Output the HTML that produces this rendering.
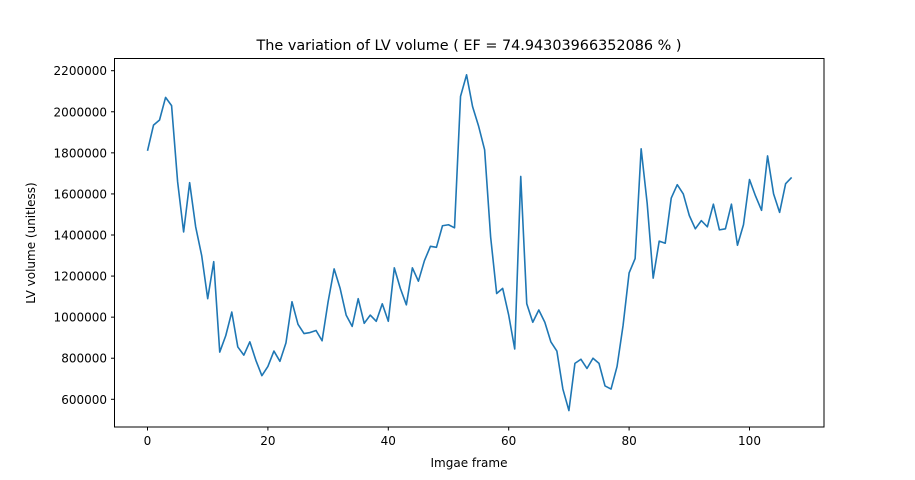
<!DOCTYPE html>
<html><head><meta charset="utf-8">
<style>
body{margin:0;background:#fff;}
svg{display:block;font-family:"DejaVu Sans","Liberation Sans",sans-serif;}
</style></head>
<body>
<svg id="chart" width="915" height="480">
<rect width="915" height="480" fill="#fff"/>
<text x="469" y="50" font-size="14.4" text-anchor="middle">The variation of LV volume ( EF = 74.94303966352086 % )</text>
<g id="axes"></g>
<polyline id="line" fill="none" stroke="#1f77b4" stroke-width="1.6" stroke-linejoin="round"/>
<rect x="114.5" y="58.5" width="709.5" height="368.5" fill="none" stroke="#000" stroke-width="1"/>
<text x="469" y="467" font-size="12" text-anchor="middle">Imgae frame</text>
<text transform="translate(35,243) rotate(-90)" font-size="12" text-anchor="middle">LV volume (unitless)</text>
</svg>
<script>
const values = [1810,1935,1960,2070,2030,1660,1415,1655,1440,1300,1090,1270,830,910,1025,855,815,880,790,715,760,835,785,875,1075,965,920,925,935,885,1075,1235,1140,1010,955,1090,970,1010,980,1065,980,1240,1140,1060,1240,1175,1275,1345,1340,1445,1450,1435,2075,2180,2025,1930,1815,1390,1115,1140,1010,845,1685,1065,975,1035,975,880,835,650,545,775,795,750,800,775,665,650,760,960,1215,1285,1820,1555,1190,1370,1360,1580,1645,1600,1495,1430,1470,1440,1550,1425,1430,1550,1350,1450,1670,1590,1520,1785,1600,1510,1650,1680].map(v=>v*1000);
const xTicks = [0,20,40,60,80,100];
const yTicks = [600000,800000,1000000,1200000,1400000,1600000,1800000,2000000,2200000];
const X = v => 147.5 + v*6.02;
const Y = v => 399.3 - (v-600000)*(328.6/1600000);
const ns = "http://www.w3.org/2000/svg";
const axes = document.getElementById('axes');
xTicks.forEach(t=>{
  const l=document.createElementNS(ns,'line');
  l.setAttribute('x1',X(t));l.setAttribute('x2',X(t));l.setAttribute('y1',427);l.setAttribute('y2',430.5);l.setAttribute('stroke','#000');
  
  
  axes.appendChild(l);
  const tx=document.createElementNS(ns,'text');
  tx.setAttribute('x',X(t));tx.setAttribute('y',445);tx.setAttribute('font-size','12');tx.setAttribute('text-anchor','middle');
  tx.textContent=t;
  
  
  axes.appendChild(tx);
});
yTicks.forEach(t=>{
  const l=document.createElementNS(ns,'line');
  l.setAttribute('x1',111);l.setAttribute('x2',114.5);l.setAttribute('y1',Y(t));l.setAttribute('y2',Y(t));l.setAttribute('stroke','#000');
  
  
  axes.appendChild(l);
  const tx=document.createElementNS(ns,'text');
  tx.setAttribute('x',107);tx.setAttribute('y',Y(t)+4.5);tx.setAttribute('font-size','12');tx.setAttribute('text-anchor','end');
  tx.textContent=t;
  
  
  axes.appendChild(tx);
});
document.getElementById('line').setAttribute('points', values.map((v,i)=>X(i)+','+Y(v)).join(' '));
</script>
</body></html>
